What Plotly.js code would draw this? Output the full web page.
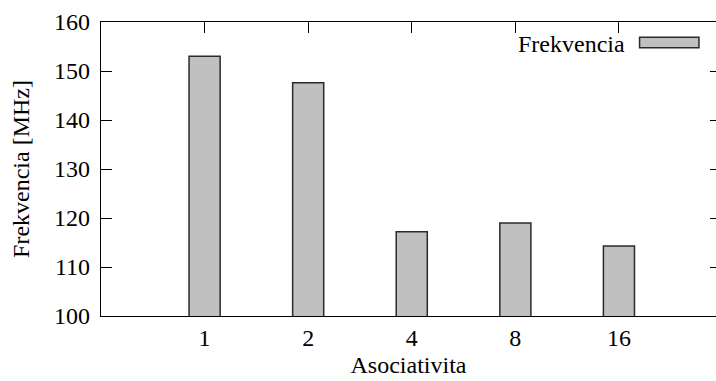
<!DOCTYPE html>
<html>
<head>
<meta charset="utf-8">
<script src="https://cdn.plot.ly/plotly-3.0.1.min.js"></script>
</head>
<body style="margin:0;background:#fff">
<div id="chart" style="width:716px;height:381px"></div>
<script>
const categories = ['1', '2', '4', '8', '16'];
const frekvencia = [153.0, 147.6, 117.2, 119.0, 114.3];
const seriesName = 'Frekvencia';
const yTicks = [100, 110, 120, 130, 140, 150, 160];

function mkFont() { return {family: 'Liberation Serif', size: 24, color: '#000000'}; }

const trace = {
  type: 'bar',
  x: categories,
  y: frekvencia,
  name: seriesName,
  width: 0.3,
  marker: {color: '#c0c0c0', line: {color: '#2a2a2a', width: 1.5}},
  showlegend: false,
  hoverinfo: 'skip'
};

const layout = {
  width: 716, height: 381,
  margin: {l: 101, r: 0, t: 22, b: 65},
  paper_bgcolor: '#fff', plot_bgcolor: '#fff',
  font: mkFont(),
  showlegend: false,
  xaxis: {
    type: 'category',
    range: [-1, 4.937],
    showline: true, linecolor: '#000', linewidth: 1.3,
    mirror: false,
    ticks: 'inside', ticklen: 11, tickwidth: 1, tickcolor: '#000',
    showgrid: false, zeroline: false,
    layer: 'below traces',
    tickfont: mkFont(),
    title: {text: 'Asociativita', font: mkFont(), standoff: 6},
    automargin: false
  },
  xaxis2: {
    type: 'category', overlaying: 'x', side: 'top', anchor: 'y',
    range: [-1, 4.937], matches: 'x',
    showline: true, linecolor: '#000', linewidth: 1.3,
    ticks: 'inside', ticklen: 11, tickwidth: 1, tickcolor: '#000',
    showticklabels: false, showgrid: false, zeroline: false
  },
  yaxis: {
    range: [100, 160],
    tickvals: yTicks,
    showline: true, linecolor: '#000', linewidth: 1.3,
    mirror: false,
    ticks: 'inside', ticklen: 11, tickwidth: 1, tickcolor: '#000',
    ticklabelstandoff: 5,
    showgrid: false, zeroline: false,
    tickfont: mkFont(),
    title: {text: 'Frekvencia [MHz]', font: mkFont(), standoff: 17},
    automargin: false
  },
  yaxis2: {
    overlaying: 'y', side: 'right', anchor: 'x', matches: 'y',
    range: [100, 160], tickvals: yTicks,
    showline: false,
    ticks: 'inside', ticklen: 6, tickwidth: 1, tickcolor: '#000',
    showticklabels: false, showgrid: false, zeroline: false
  },
  annotations: [{
    xref: 'paper', yref: 'paper',
    x: 0.8555, y: 0.925,
    xanchor: 'right', yanchor: 'middle',
    text: seriesName, showarrow: false, font: mkFont()
  }],
  shapes: [{
    type: 'rect', xref: 'paper', yref: 'paper',
    x0: 0.8757, x1: 0.9723, y0: 0.9126, y1: 0.948,
    fillcolor: '#c0c0c0', line: {color: '#2a2a2a', width: 1.5}
  }]
};

const axisTrace = {type: 'bar', x: categories, y: frekvencia.map(() => null), xaxis: 'x2', yaxis: 'y2', showlegend: false, hoverinfo: 'skip'};

Plotly.newPlot('chart', [trace, axisTrace], layout, {displayModeBar: false});
</script>
</body>
</html>
